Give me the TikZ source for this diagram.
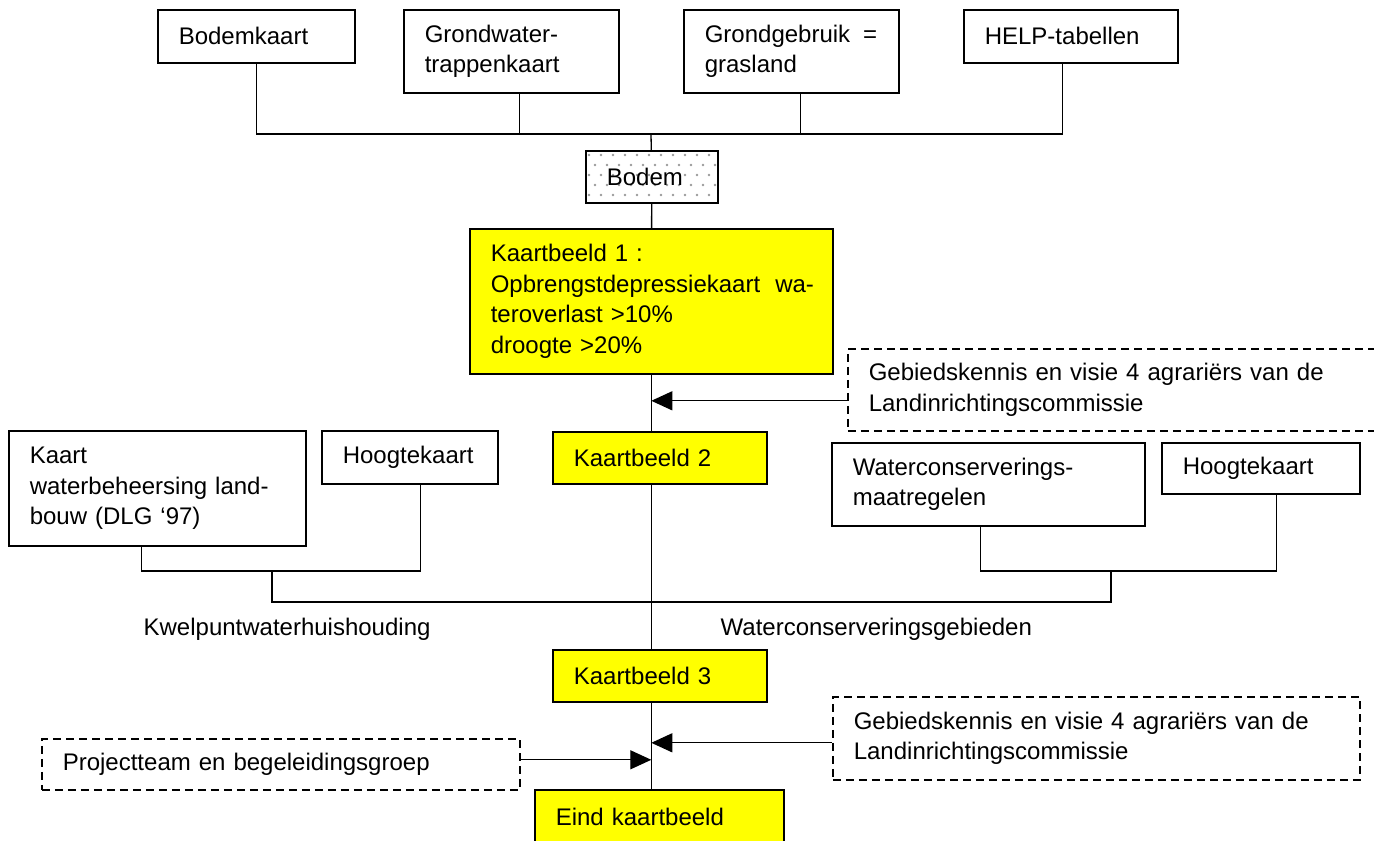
\documentclass[tikz,border=0pt]{standalone}
\usepackage{fontspec}
\setmainfont{Liberation Sans}
\usetikzlibrary{arrows.meta,positioning,backgrounds}
\definecolor{kaartgeel}{RGB}{255,255,0}

\begin{document}
\begin{tikzpicture}[x=1pt,y=-1pt,>={Triangle[length=21pt,width=19pt]},
  font=\fontsize{24}{30.7}\selectfont,line width=1.3pt,
  doos/.style={draw,rectangle,anchor=north west,inner xsep=21pt,inner ysep=0pt,align=left,line width=1.6pt},
  geel/.style={doos,fill=kaartgeel},
  stippel/.style={doos,dash pattern=on 8pt off 5pt}]
  \useasboundingbox (0,0) rectangle (1374,841);

  % bovenste rij kaarten
  \node[doos,text width=155pt,minimum height=53pt] (bodemkaart) at (157,9) {Bodemkaart};
  \node[doos,text width=173pt,minimum height=83pt] (gwtkaart) at (403,9) {Grondwater-\\trappenkaart};
  \node[doos,text width=173pt,minimum height=83pt] (grondgebruik) at (683,9) {Grondgebruik\hspace{5pt} =\\grasland};
  \node[doos,text width=172pt,minimum height=53pt] (helptab) at (963,9) {HELP-tabellen};

  \node[doos,text width=90pt,minimum height=52pt] (bodem) at (585,150) {Bodem};
  \begin{scope}[on background layer]
    \clip (bodem.south west) rectangle (bodem.north east);
    \foreach \i in {0,...,11}
      \foreach \j in {0,...,5}
        \fill[gray!80] (bodem.north west) ++({\i*12+4+mod(\j,2)*6},{\j*10+5}) circle (1.3pt);
  \end{scope}

  \node[geel,text width=321pt,minimum height=145pt] (kb1) at (469,228)
    {Kaartbeeld 1 :\\\mbox{Opbrengstdepressiekaart\hspace{15pt}wa-}\\teroverlast >10\%\\droogte >20\%};
  \node[stippel,text width=506pt,minimum height=82pt] (visie1) at (847,348)
    {Gebiedskennis en visie 4 agrariërs van de\\Landinrichtingscommissie};
  \node[geel,text width=172pt,minimum height=52pt] (kb2) at (552,431) {Kaartbeeld 2};

  % middelste rij
  \node[doos,text width=255pt,minimum height=115pt] (kaartwb) at (8,430)
    {Kaart\\waterbeheersing land-\\bouw (DLG ‘97)};
  \node[doos,text width=134pt,minimum height=53pt] (hoogteL) at (321,430) {Hoogtekaart};
  \node[doos,text width=271pt,minimum height=83pt] (wcmaatr) at (831,442) {Waterconserverings-\\maatregelen};
  \node[doos,text width=156pt,minimum height=51pt] (hoogteR) at (1161,442) {Hoogtekaart};

  \node[anchor=base west,inner sep=0pt] (kwelpunt) at (143,635) {Kwelpuntwaterhuishouding};
  \node[anchor=base west,inner sep=0pt] (wcgebieden) at (720,635) {Waterconserveringsgebieden};

  % onderste rij
  \node[geel,text width=172pt,minimum height=52pt] (kb3) at (552,649) {Kaartbeeld 3};
  \node[stippel,text width=485pt,minimum height=83pt] (visie2) at (832,696)
    {Gebiedskennis en visie 4 agrariërs van de\\Landinrichtingscommissie};
  \node[stippel,text width=436pt,minimum height=51pt] (projteam) at (41,738) {Projectteam en begeleidingsgroep};
  \node[geel,text width=207pt,minimum height=54pt] (eind) at (534,789) {Eind kaartbeeld};

  % verbindingen boven
  \coordinate (jtop) at (651,134);
  \draw (bodemkaart.south) |- (jtop) -| ([xshift=-8pt]helptab.south);
  \draw (jtop) -| ([xshift=8.5pt]gwtkaart.south);
  \draw (jtop) -| ([xshift=9pt]grondgebruik.south);
  \draw (jtop) -- (bodem);
  \draw (bodem) -- (kb1);

  % hoofdlijn
  \draw (kb1.south) -- (kb1.south |- kb2.north);
  \draw (kb1.south |- kb2.south) -- (kb1.south |- kb3.north);
  \draw (kb1.south |- kb3.south) -- (kb1.south |- eind.north);

  % zijtakken
  \coordinate (jl) at (272,571);
  \coordinate (jr) at (1111,571);
  \coordinate (jb) at (1111,602);
  \draw ([xshift=-15.5pt]kaartwb.south) |- (jl) -| ([xshift=11pt]hoogteL.south);
  \draw ([xshift=-7.5pt]wcmaatr.south) |- (jr) -| ([xshift=16pt]hoogteR.south);
  \draw (jl) |- (jb) -- (jr);

  % pijlen
  \coordinate (p1) at ([yshift=-11pt]visie1.west);
  \coordinate (p2) at ([yshift=-4.5pt]visie2.west);
  \coordinate (p3) at ([yshift=4.5pt]projteam.east);
  \draw[->] (p1) -- (p1 -| kb1.south);
  \draw[->] (p2) -- (p2 -| kb1.south);
  \draw[->] (p3) -- (p3 -| kb1.south);
\end{tikzpicture}
\end{document}
